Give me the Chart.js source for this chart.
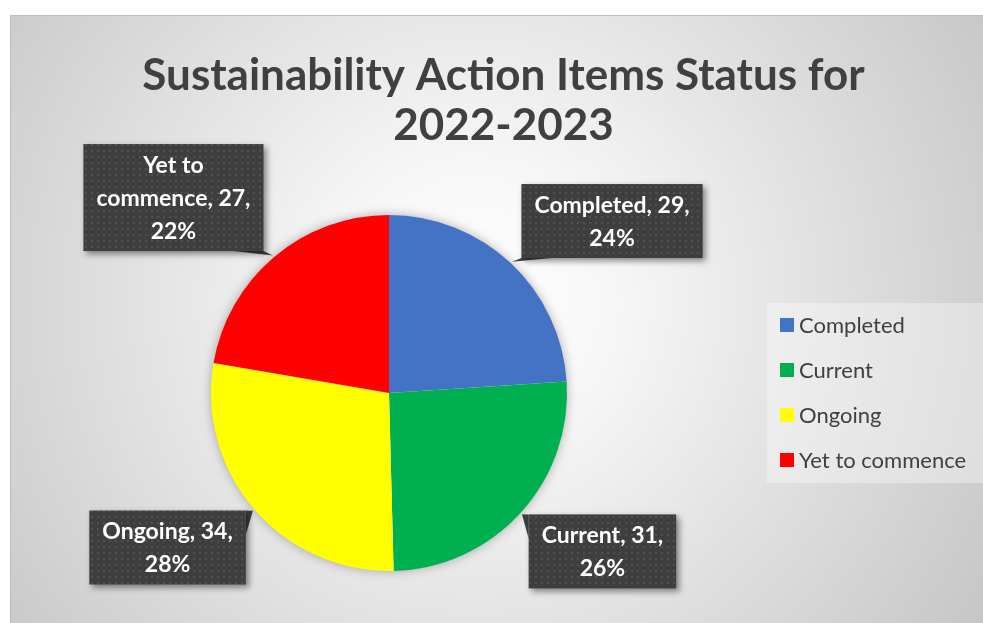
<!DOCTYPE html>
<html><head><meta charset="utf-8">
<script src="https://cdn.jsdelivr.net/npm/chart.js@4/dist/chart.umd.min.js"></script>
<style>
html,body{margin:0;padding:0;width:983px;height:623px;overflow:hidden;background:#fff;}
#box{position:absolute;left:10px;top:15px;width:985px;height:620px;border-top:1px solid #bdbdbd;border-left:1px solid #bdbdbd;
background:radial-gradient(circle farthest-corner at 47% 46%, #ffffff 0%, #f7f7f7 22%, #c4c4c4 100%);}
canvas{position:absolute;left:0;top:0;}
</style></head><body>
<div id="box"><canvas id="c" width="985" height="620"></canvas></div>
<script>
const categories = ['Completed', 'Current', 'Ongoing', 'Yet to commence'];
const itemCounts = [29, 31, 34, 27];
const sliceColors = ['#4472C4', '#00B050', '#FFFF00', '#FF0000'];
const titleLines = ['Sustainability Action Items Status for', '2022-2023'];

const FONT = 'Lato, "Open Sans", sans-serif';
const TEXT_DARK = '#404040';
// label box centres relative to pie centre, in units of radius (layout only)
const labelOffsets = [[1.253, -0.966], [1.199, 0.890], [-1.244, 0.868], [-1.211, -1.098]];

function makePattern(ctx) {
  const p = document.createElement('canvas'); p.width = 6; p.height = 6;
  const g = p.getContext('2d');
  g.fillStyle = '#3e3e3e'; g.fillRect(0, 0, 6, 6);
  g.fillStyle = '#505050'; g.fillRect(2, 2, 2, 2);
  return ctx.createPattern(p, 'repeat');
}
function wrap(ctx, text, maxW) {
  const words = text.split(' '); const lines = []; let cur = '';
  words.forEach(w => {
    const t = cur ? cur + ' ' + w : w;
    if (cur && ctx.measureText(t).width > maxW) { lines.push(cur); cur = w; } else cur = t;
  });
  if (cur) lines.push(cur);
  return lines;
}

const decor = {
  id: 'decor',
  beforeDatasetsDraw(chart) {
    const ctx = chart.ctx;
    const arc = chart.getDatasetMeta(0).data[0];
    if (!arc) return;
    ctx.save();
    ctx.shadowColor = 'rgba(0,0,0,0.35)'; ctx.shadowBlur = 12;
    ctx.fillStyle = '#ffffff';
    ctx.beginPath(); ctx.arc(arc.x, arc.y, arc.outerRadius - 1, 0, Math.PI * 2); ctx.fill();
    ctx.restore();
  },
  afterDatasetsDraw(chart) {
    const ctx = chart.ctx;
    const meta = chart.getDatasetMeta(0);
    const total = itemCounts.reduce((a, b) => a + b, 0);
    const pat = makePattern(ctx);
    meta.data.forEach((arc, i) => {
      const { x, y, startAngle, endAngle, outerRadius } = arc.getProps(['x', 'y', 'startAngle', 'endAngle', 'outerRadius'], true);
      const mid = (startAngle + endAngle) / 2;
      const tx = x + Math.cos(mid) * (outerRadius + 2), ty = y + Math.sin(mid) * (outerRadius + 2);
      const pct = Math.round(itemCounts[i] / total * 100);
      const text = categories[i] + ', ' + itemCounts[i] + ', ' + pct + '%';
      ctx.save();
      ctx.font = 'bold 23px ' + FONT;
      const lines = wrap(ctx, text, 165);
      const w = Math.max(...lines.map(l => ctx.measureText(l).width)) + 26;
      const lh = 33;
      const h = lines.length * lh + 8;
      const cx = x + labelOffsets[i][0] * outerRadius, cy = y + labelOffsets[i][1] * outerRadius;
      const bx = cx - w / 2, by = cy - h / 2;
      const nx = tx < cx ? bx : bx + w, ny = ty < cy ? by : by + h;
      const sx = tx < cx ? 1 : -1, sy = ty < cy ? 1 : -1;
      // callout wedge
      ctx.fillStyle = '#3e3e3e';
      ctx.beginPath(); ctx.moveTo(tx, ty);
      if (cy > y) { ctx.lineTo(nx, ny); ctx.lineTo(nx, ny + sy * 24); }
      else { ctx.lineTo(nx + sx * 30, ny); ctx.lineTo(nx, ny); }
      ctx.closePath(); ctx.fill();
      // box
      ctx.shadowColor = 'rgba(0,0,0,0.45)'; ctx.shadowBlur = 6; ctx.shadowOffsetX = 3; ctx.shadowOffsetY = 3;
      ctx.fillStyle = pat; ctx.fillRect(bx, by, w, h);
      ctx.shadowColor = 'transparent';
      ctx.fillStyle = '#ffffff'; ctx.textAlign = 'center'; ctx.textBaseline = 'middle';
      lines.forEach((l, k) => ctx.fillText(l, cx, by + 4 + lh * (k + 0.5) + 1));
      ctx.restore();
    });
  },
  afterDraw(chart) {
    const ctx = chart.ctx;
    ctx.save();
    // title
    ctx.fillStyle = TEXT_DARK; ctx.textAlign = 'center'; ctx.textBaseline = 'middle';
    ctx.font = 'bold 44px ' + FONT;
    titleLines.forEach((t, k) => ctx.fillText(t, chart.width / 2, 60 + k * 50));
    // legend
    const lx = 756, ly = 287, lw = 216, lhgt = 180;
    ctx.fillStyle = 'rgba(255,255,255,0.35)'; ctx.fillRect(lx, ly, lw, lhgt);
    ctx.font = '22px ' + FONT; ctx.textAlign = 'left';
    categories.forEach((c, k) => {
      const yy = ly + 22 + k * 45;
      ctx.fillStyle = sliceColors[k]; ctx.fillRect(lx + 13, yy - 7, 14, 14);
      ctx.fillStyle = TEXT_DARK; ctx.fillText(c, lx + 32, yy + 1);
    });
    ctx.restore();
  }
};

new Chart(document.getElementById('c'), {
  type: 'pie',
  data: { labels: categories, datasets: [{ data: itemCounts, backgroundColor: sliceColors, borderWidth: 0 }] },
  options: {
    responsive: false, animation: false,
    layout: { padding: { left: 200, top: 199, right: 429, bottom: 65 } },
    plugins: { legend: { display: false }, title: { display: false }, tooltip: { enabled: false } }
  },
  plugins: [decor]
});
</script>
</body></html>
